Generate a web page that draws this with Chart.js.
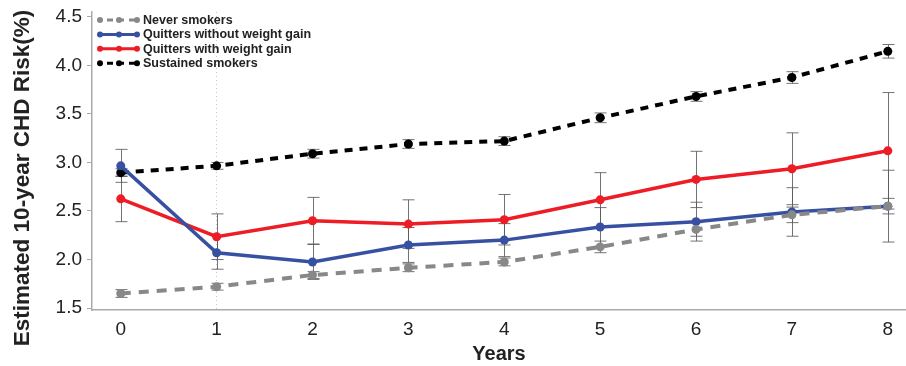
<!DOCTYPE html>
<html>
<head>
<meta charset="utf-8">
<script src="https://cdn.jsdelivr.net/npm/chart.js@4/dist/chart.umd.min.js"></script>
<style>
    html, body { margin: 0; padding: 0; background: #fff; }
    #wrap { width: 906px; height: 366px; }
</style>
</head>
<body>
<div id="wrap"><canvas id="riskChart" width="906" height="366"></canvas></div>
<script>
const years = [0, 1, 2, 3, 4, 5, 6, 7, 8];
const yTicks = [1.5, 2.0, 2.5, 3.0, 3.5, 4.0, 4.5];

const seriesNames = [
    "Never smokers",
    "Quitters without weight gain",
    "Quitters with weight gain",
    "Sustained smokers"
];

const neverSmokers = [1.65, 1.72, 1.84, 1.915, 1.975, 2.13, 2.31, 2.46, 2.55];
const neverErr = [0.04, 0.035, 0.035, 0.04, 0.04, 0.06, 0.07, 0.08, 0.08];

const quittersNoGain = [2.965, 2.07, 1.975, 2.15, 2.2, 2.335, 2.39, 2.49, 2.55];
const quittersNoGainErr = [0.17, 0.17, 0.18, 0.18, 0.17, 0.2, 0.2, 0.25, 0.37];

const quittersGain = [2.625, 2.235, 2.4, 2.365, 2.41, 2.615, 2.825, 2.935, 3.12];
const quittersGainErr = [0.235, 0.235, 0.24, 0.25, 0.26, 0.28, 0.29, 0.37, 0.6];

const sustained = [2.895, 2.965, 3.09, 3.19, 3.22, 3.46, 3.68, 3.875, 4.145];
const sustainedErr = [0.04, 0.035, 0.045, 0.045, 0.045, 0.05, 0.05, 0.06, 0.07];

function toPoints(values) {
    return values.map((v, i) => ({ x: years[i], y: v }));
}

const FONT = "'Liberation Sans', Arial, sans-serif";

// error bars drawn under the lines
const errorBars = {
    id: "errorBars",
    beforeDatasetsDraw(chart) {
        const { ctx, scales: { x, y } } = chart;
        ctx.save();
        ctx.strokeStyle = "rgba(90,90,90,0.85)";
        ctx.lineWidth = 1;
        chart.data.datasets.forEach(ds => {
            ds.err.forEach((e, i) => {
                const px = Math.round(x.getPixelForValue(years[i])) + 0.5;
                const top = y.getPixelForValue(ds.data[i].y + e);
                const bot = y.getPixelForValue(ds.data[i].y - e);
                ctx.beginPath();
                ctx.moveTo(px, top);
                ctx.lineTo(px, bot);
                ctx.moveTo(px - 6, top);
                ctx.lineTo(px + 6, top);
                ctx.moveTo(px - 6, bot);
                ctx.lineTo(px + 6, bot);
                ctx.stroke();
            });
        });
        ctx.restore();
    }
};

// legend inside the plot, top left
const innerLegend = {
    id: "innerLegend",
    afterDraw(chart) {
        const ctx = chart.ctx;
        const left = chart.chartArea.left + 6;
        ctx.save();
        chart.data.datasets.forEach((ds, i) => {
            const yy = 20 + i * 14.4;
            ctx.strokeStyle = ds.borderColor;
            ctx.lineWidth = 3;
            ctx.setLineDash(ds.borderDash ? [6, 5] : []);
            ctx.lineDashOffset = ds.borderDash ? -5 : 0;
            ctx.beginPath();
            ctx.moveTo(left + 4, yy);
            ctx.lineTo(left + 40, yy);
            ctx.stroke();
            ctx.setLineDash([]);
            ctx.fillStyle = ds.borderColor;
            [left + 2, left + 21, left + 39].forEach(cx => {
                ctx.beginPath();
                ctx.arc(cx, yy, 3, 0, Math.PI * 2);
                ctx.fill();
            });
            ctx.fillStyle = "#222";
            ctx.font = "bold 12.5px " + FONT;
            ctx.textBaseline = "middle";
            ctx.textAlign = "left";
            ctx.fillText(ds.label, left + 45, yy + 0.5);
        });
        ctx.restore();
    }
};

// y axis title, placed like the original
const yTitle = {
    id: "yTitle",
    afterDraw(chart) {
        const ctx = chart.ctx;
        ctx.save();
        ctx.translate(23, 178);
        ctx.rotate(-Math.PI / 2);
        ctx.fillStyle = "#222";
        ctx.font = "bold 22.5px " + FONT;
        ctx.textAlign = "center";
        ctx.textBaseline = "middle";
        ctx.fillText("Estimated 10-year CHD Risk(%)", 0, 0);
        ctx.restore();
    }
};

const ctx = document.getElementById("riskChart").getContext("2d");

new Chart(ctx, {
    type: "line",
    data: {
        datasets: [
            {
                label: seriesNames[0],
                data: toPoints(neverSmokers),
                err: neverErr,
                borderColor: "#888888",
                backgroundColor: "#888888",
                borderWidth: 4,
                borderDash: [10, 8],
                pointRadius: 4.5,
                pointBorderWidth: 0
            },
            {
                label: seriesNames[1],
                data: toPoints(quittersNoGain),
                err: quittersNoGainErr,
                borderColor: "#3850a2",
                backgroundColor: "#3850a2",
                borderWidth: 3.5,
                pointRadius: 4.5,
                pointBorderWidth: 0
            },
            {
                label: seriesNames[2],
                data: toPoints(quittersGain),
                err: quittersGainErr,
                borderColor: "#ee1c25",
                backgroundColor: "#ee1c25",
                borderWidth: 3.5,
                pointRadius: 4.5,
                pointBorderWidth: 0
            },
            {
                label: seriesNames[3],
                data: toPoints(sustained),
                err: sustainedErr,
                borderColor: "#000000",
                backgroundColor: "#000000",
                borderWidth: 4,
                borderDash: [8, 7],
                pointRadius: 4.5,
                pointBorderWidth: 0
            }
        ]
    },
    options: {
        responsive: false,
        animation: false,
        devicePixelRatio: 1,
        layout: { autoPadding: false, padding: { top: 12, right: 0, left: 0, bottom: 0 } },
        plugins: {
            legend: { display: false },
            tooltip: { enabled: false }
        },
        scales: {
            x: {
                type: "linear",
                min: -0.3,
                max: 8.19,
                afterBuildTicks: scale => {
                    scale.ticks = years.map(v => ({ value: v }));
                },
                afterFit: scale => {
                    scale.height = 56;
                    scale.paddingRight = 0;
                    scale.paddingLeft = 0;
                },
                border: { color: "#aaaaaa", width: 1.5, dash: [1, 3] },
                grid: {
                    drawTicks: false,
                    color: c => (c.tick && c.tick.value === 1 ? "#c8c8c8" : "rgba(0,0,0,0)"),
                    lineWidth: 1
                },
                ticks: {
                    padding: 8,
                    color: "#222",
                    font: { family: FONT, size: 19 },
                    maxRotation: 0,
                    autoSkip: false
                },
                title: {
                    display: true,
                    text: "Years",
                    color: "#222",
                    padding: { top: 0, bottom: 0 },
                    font: { family: FONT, size: 20, weight: "bold" }
                }
            },
            y: {
                min: 1.48,
                max: 4.55,
                afterBuildTicks: scale => {
                    scale.ticks = yTicks.map(v => ({ value: v }));
                },
                afterFit: scale => {
                    scale.width = 92;
                    scale.paddingTop = 0;
                    scale.paddingBottom = 0;
                },
                border: { color: "#aaaaaa", width: 1.5 },
                grid: {
                    drawOnChartArea: false,
                    tickLength: 5,
                    color: "#aaaaaa"
                },
                ticks: {
                    padding: 5,
                    color: "#222",
                    font: { family: FONT, size: 19 },
                    callback: v => v.toFixed(1)
                }
            }
        }
    },
    plugins: [errorBars, innerLegend, yTitle]
});
</script>
</body>
</html>
